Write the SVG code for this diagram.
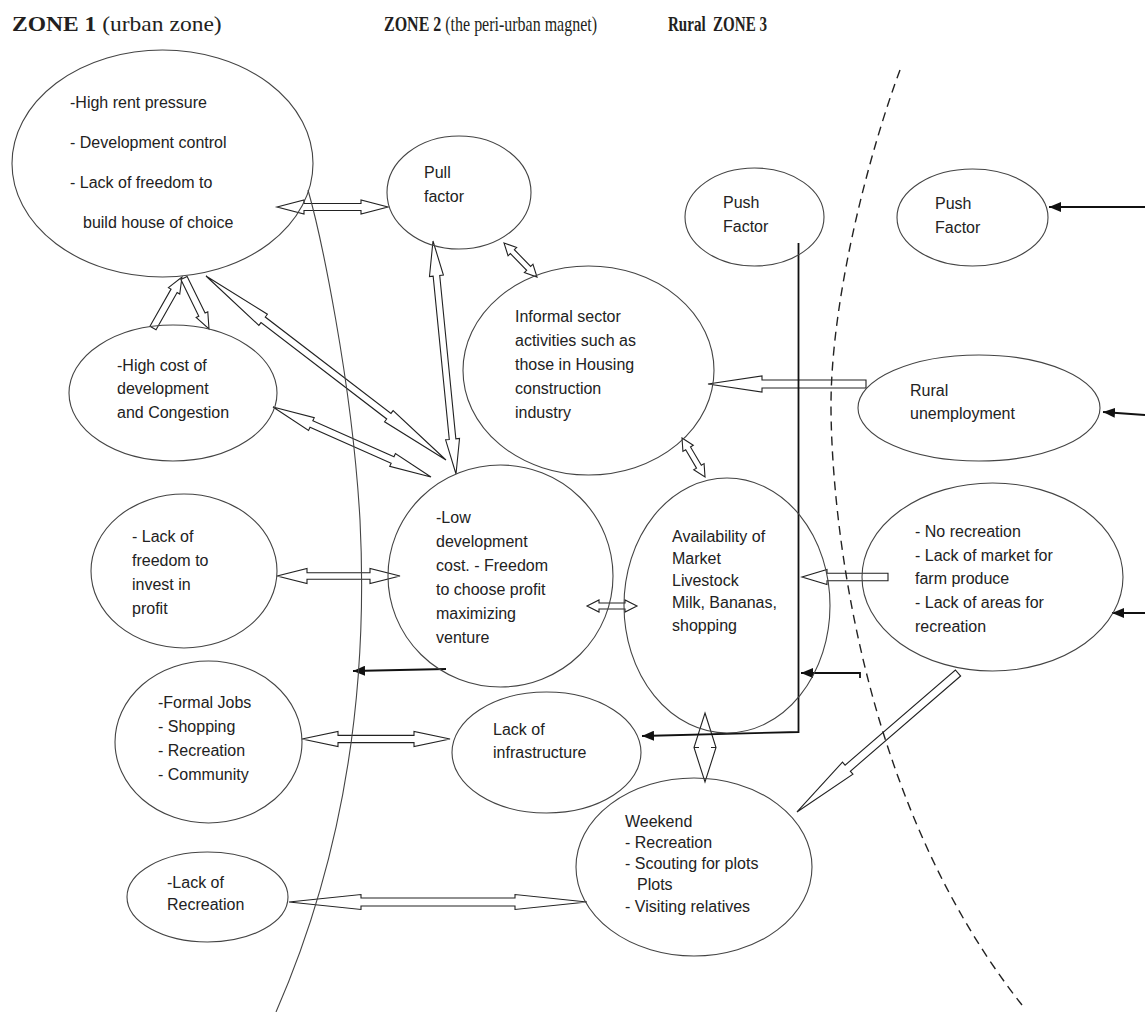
<svg xmlns="http://www.w3.org/2000/svg" width="1145" height="1012" viewBox="0 0 1145 1012">
<style>
.bg{fill:#fff}
.nd{fill:none;stroke:#444;stroke-width:1.1}
.t{font-family:"Liberation Sans",Arial,sans-serif;font-size:16px;fill:#222}
.ti{font-family:"Liberation Serif","Times New Roman",serif;font-size:22px;fill:#231f20;white-space:pre}
.b{font-weight:bold}
.ha{fill:#fff;stroke:#222;stroke-width:1.1;stroke-linejoin:miter}
.bl{fill:none;stroke:#111;stroke-width:1.8}
.zone{fill:none;stroke:#444;stroke-width:1.1}
.dash{fill:none;stroke:#222;stroke-width:1.4;stroke-dasharray:9 6}
</style>
<defs>
<marker id="ah" viewBox="0 0 12 10" refX="12" refY="5" markerWidth="12" markerHeight="10" orient="auto" markerUnits="userSpaceOnUse">
<path d="M0,0 L12,5 L0,10 z" fill="#111"/>
</marker>
</defs>
<rect class="bg" x="0" y="0" width="1145" height="1012"/>

<g id="titles">
<text class="ti" transform="translate(12,31) scale(1.07,1)" x="0" y="0"><tspan class="b">ZONE 1</tspan> (urban zone)</text>
<text class="ti" transform="translate(384,31) scale(0.727,1)" x="0" y="0"><tspan class="b">ZONE 2</tspan> (the peri-urban magnet)</text>
<text class="ti b" transform="translate(668,31) scale(0.684,1)" x="0" y="0">Rural  ZONE 3</text>
</g>

<g id="connectors">
<!-- A zone1 <-> pull -->
<polygon class="ha" transform="translate(277,207)" points="0,0 27,-7 27,-3.5 84,-3.5 84,-7 111,0 84,7 84,3.5 27,3.5 27,7"/>
<!-- B1 highcost -> zone1 -->
<polygon class="ha" transform="translate(153,328) rotate(-60.4)" points="0,-3.5 42.7,-3.5 42.7,-6.5 58.7,0 42.7,6.5 42.7,3.5 0,3.5"/>
<!-- B2 zone1 -> highcost -->
<polygon class="ha" transform="translate(184,278) rotate(63.89)" points="0,-3.5 40.8,-3.5 40.8,-6.5 56.8,0 40.8,6.5 40.8,3.5 0,3.5"/>
<!-- C zone1 <-> lowdev -->
<polygon class="ha" transform="translate(206,276) rotate(37.48)" points="0,0 72,-7 72,-3.5 230.4,-3.5 230.4,-7 302.4,0 230.4,7 230.4,3.5 72,3.5 72,7"/>
<!-- D highcost <-> lowdev -->
<polygon class="ha" transform="translate(273,407) rotate(23.9)" points="0,0 42,-7 42,-3.5 130.8,-3.5 130.8,-7 172.8,0 130.8,7 130.8,3.5 42,3.5 42,7"/>
<!-- E pull <-> lowdev -->
<polygon class="ha" transform="translate(433,241) rotate(84.36)" points="0,0 35,-7 35,-3.3 199.1,-3.3 199.1,-7 234.1,0 199.1,7 199.1,3.3 35,3.3 35,7"/>
<!-- F pull <-> informal -->
<polygon class="ha" transform="translate(504,243) rotate(45.85)" points="0,0 12,-6 12,-2.8 35.4,-2.8 35.4,-6 47.4,0 35.4,6 35.4,2.8 12,2.8 12,6"/>
<!-- G informal <-> availability -->
<polygon class="ha" transform="translate(682,438) rotate(59.47)" points="0,0 12,-6 12,-2.8 33.3,-2.8 33.3,-6 45.3,0 33.3,6 33.3,2.8 12,2.8 12,6"/>
<!-- H rural unemployment -> informal -->
<polygon class="ha" transform="translate(866,384) rotate(180)" points="0,-4 104,-4 104,-8 158,0 104,8 104,4 0,4"/>
<!-- I no recreation -> availability -->
<polygon class="ha" transform="translate(888,577) rotate(180)" points="0,-3.8 61,-3.8 61,-7.5 86,0 61,7.5 61,3.8 0,3.8"/>
<!-- J lowdev <-> availability -->
<polygon class="ha" transform="translate(587,606)" points="0,0 12,-6 12,-3 38,-3 38,-6 50,0 38,6 38,3 12,3 12,6"/>
<!-- K freedom <-> lowdev -->
<polygon class="ha" transform="translate(277,576)" points="0,0 30,-7.5 30,-3.3 93,-3.3 93,-7.5 123,0 93,7.5 93,3.3 30,3.3 30,7.5"/>
<!-- L formal jobs <-> infrastructure -->
<polygon class="ha" transform="translate(302,739)" points="0,0 36,-7.5 36,-3.6 112,-3.6 112,-7.5 148,0 112,7.5 112,3.6 36,3.6 36,7.5"/>
<!-- M lack of recreation <-> weekend -->
<polygon class="ha" transform="translate(289,902)" points="0,0 72,-7.5 72,-4 226,-4 226,-7.5 298,0 226,7.5 226,4 72,4 72,7.5"/>
<!-- R no recreation -> weekend -->
<polygon class="ha" transform="translate(958,673) rotate(139.2)" points="0,-4 145.7,-4 145.7,-8 212.7,0 145.7,8 145.7,4 0,4"/>
<!-- N availability <-> weekend -->
<polygon class="ha" points="705,713 716,747.5 705,782 694,747.5"/>
<path class="ha" d="M694,747.5 H699 M711,747.5 H716"/>

<!-- black arrows -->
<path class="bl" d="M446,669 L353,671" marker-end="url(#ah)"/>
<path class="bl" d="M798.5,243 L798.5,732 L642,736" marker-end="url(#ah)"/>
<path class="bl" d="M860,678 L860,673 L801,673" marker-end="url(#ah)"/>
<path class="bl" d="M1145,207 L1049,207" marker-end="url(#ah)"/>
<path class="bl" d="M1145,415 L1103,412" marker-end="url(#ah)"/>
<path class="bl" d="M1145,613 L1112,613" marker-end="url(#ah)"/>
</g>

<g id="boundaries">
<path class="zone" d="M308,190 C320,232 352,380 360,520 C366,640 360,820 276,1012"/>
<path class="dash" d="M900,70 C870,150 830,300 831,410 C832,520 860,800 1022,1005"/>
</g>

<g id="n-zone1">
<ellipse class="nd" cx="162.5" cy="163.5" rx="150.5" ry="113.5"/>
<text class="t" x="70" y="108">-High rent pressure</text>
<text class="t" x="70" y="148">- Development control</text>
<text class="t" x="70" y="188">- Lack of freedom to</text>
<text class="t" x="83" y="228">build house of choice</text>
</g>
<g id="n-pull">
<ellipse class="nd" cx="459" cy="192.5" rx="72" ry="56.5"/>
<text class="t" x="424" y="178">Pull</text>
<text class="t" x="424" y="202">factor</text>
</g>
<g id="n-push1">
<ellipse class="nd" cx="754.5" cy="217" rx="69.5" ry="49"/>
<text class="t" x="723" y="208">Push</text>
<text class="t" x="723" y="232">Factor</text>
</g>
<g id="n-informal">
<ellipse class="nd" cx="588.5" cy="370.5" rx="125.5" ry="104.5"/>
<text class="t" x="515" y="322">Informal sector</text>
<text class="t" x="515" y="346">activities such as</text>
<text class="t" x="515" y="370">those in Housing</text>
<text class="t" x="515" y="394">construction</text>
<text class="t" x="515" y="418">industry</text>
</g>
<g id="n-push2">
<ellipse class="nd" cx="972.5" cy="217.5" rx="75.5" ry="48.5"/>
<text class="t" x="935" y="209">Push</text>
<text class="t" x="935" y="233">Factor</text>
</g>
<g id="n-rural">
<ellipse class="nd" cx="979" cy="408" rx="121" ry="53"/>
<text class="t" x="910" y="396">Rural</text>
<text class="t" x="910" y="419">unemployment</text>
</g>
<g id="n-highcost">
<ellipse class="nd" cx="173" cy="393" rx="104" ry="68"/>
<text class="t" x="117" y="371">-High cost of</text>
<text class="t" x="117" y="394">development</text>
<text class="t" x="117" y="418">and Congestion</text>
</g>
<g id="n-freedom">
<ellipse class="nd" cx="184" cy="571" rx="93" ry="77"/>
<text class="t" x="132" y="542">- Lack of</text>
<text class="t" x="132" y="566">freedom to</text>
<text class="t" x="132" y="590">invest in</text>
<text class="t" x="132" y="614">profit</text>
</g>
<g id="n-lowdev">
<ellipse class="nd" cx="500.5" cy="576" rx="112.5" ry="111"/>
<text class="t" x="436" y="523">-Low</text>
<text class="t" x="436" y="547">development</text>
<text class="t" x="436" y="571">cost. - Freedom</text>
<text class="t" x="436" y="595">to choose profit</text>
<text class="t" x="436" y="619">maximizing</text>
<text class="t" x="436" y="643">venture</text>
</g>
<g id="n-availability">
<ellipse class="nd" cx="727" cy="605.5" rx="103" ry="127.5"/>
<text class="t" x="672" y="542">Availability of</text>
<text class="t" x="672" y="564">Market</text>
<text class="t" x="672" y="586">Livestock</text>
<text class="t" x="672" y="608">Milk, Bananas,</text>
<text class="t" x="672" y="631">shopping</text>
</g>
<g id="n-norecreation">
<ellipse class="nd" cx="992.5" cy="577" rx="130.5" ry="94"/>
<text class="t" x="915" y="537">- No recreation</text>
<text class="t" x="915" y="561">- Lack of market for</text>
<text class="t" x="915" y="584">farm produce</text>
<text class="t" x="915" y="608">- Lack of areas for</text>
<text class="t" x="915" y="632">recreation</text>
</g>
<g id="n-formal">
<ellipse class="nd" cx="208.5" cy="742" rx="93.5" ry="81"/>
<text class="t" x="158" y="708">-Formal Jobs</text>
<text class="t" x="158" y="732">- Shopping</text>
<text class="t" x="158" y="756">- Recreation</text>
<text class="t" x="158" y="780">- Community</text>
</g>
<g id="n-infrastructure">
<ellipse class="nd" cx="546.5" cy="752.5" rx="94.5" ry="60.5"/>
<text class="t" x="493" y="735">Lack of</text>
<text class="t" x="493" y="758">infrastructure</text>
</g>
<g id="n-weekend">
<ellipse class="nd" cx="694" cy="867" rx="118" ry="89"/>
<text class="t" x="625" y="827">Weekend</text>
<text class="t" x="625" y="848">- Recreation</text>
<text class="t" x="625" y="869">- Scouting for plots</text>
<text class="t" x="637" y="890">Plots</text>
<text class="t" x="625" y="912">- Visiting relatives</text>
</g>
<g id="n-lackrec">
<ellipse class="nd" cx="207.5" cy="897" rx="80.5" ry="45"/>
<text class="t" x="167" y="888">-Lack of</text>
<text class="t" x="167" y="910">Recreation</text>
</g>
</svg>
